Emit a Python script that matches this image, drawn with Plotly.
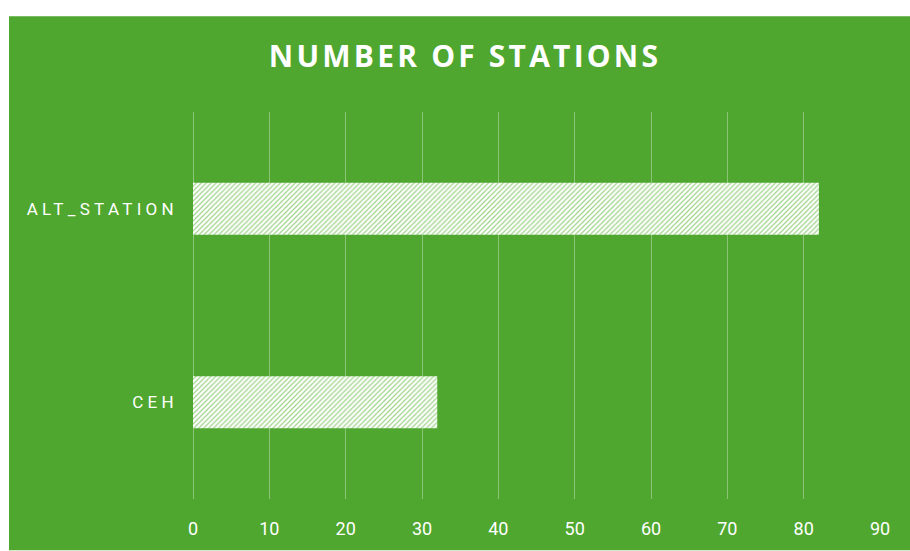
import plotly.graph_objects as go

categories = ["ALT_STATION", "CEH"]
values = [82, 32]
x_ticks = [0, 10, 20, 30, 40, 50, 60, 70, 80, 90]
title_text = "NUMBER OF STATIONS"

GREEN = "#4FA72F"
W, H = 910, 551
L, R, T, B = 193, 30, 112, 47
pw = W - L - R
ph = H - T - B

fig = go.Figure()
fig.add_trace(go.Bar(
    y=categories,
    x=values,
    orientation="h",
    width=0.27,
    marker=dict(
        color="white",
        line=dict(width=0),
        pattern=dict(shape="/", fgcolor="#9dd388", bgcolor="white", size=3.5, solidity=0.35, fillmode="replace"),
    ),
    hoverinfo="skip",
))

fig.update_layout(
    width=W, height=H,
    margin=dict(l=L, r=R, t=T, b=B, pad=0),
    paper_bgcolor="white",
    plot_bgcolor="rgba(0,0,0,0)",
    showlegend=False,
    title=dict(text=title_text, x=465 / W, xanchor="center", y=1 - 56 / H, yanchor="middle",
               font=dict(family="Open Sans", size=30, color="white", weight="bold")),
    shapes=[dict(type="rect", xref="paper", yref="paper", layer="below",
                 x0=(9 - L) / pw, x1=(W + 5 - L) / pw,
                 y0=-(H + 5 - T - ph) / ph, y1=(T + ph - 15) / ph,
                 fillcolor=GREEN, line=dict(width=0))],
)
fig.update_xaxes(
    range=[0, 90], tickvals=x_ticks, showgrid=True, gridcolor="rgba(255,255,255,0.35)", gridwidth=1,
    zeroline=True, zerolinecolor="rgba(255,255,255,0.35)", zerolinewidth=1, showline=False,
    ticks="", tickfont=dict(family="Roboto", size=18, color="white"), ticklabelstandoff=17,
    fixedrange=True,
)
fig.update_yaxes(
    categoryorder="array", categoryarray=categories[::-1], showgrid=False, zeroline=False, showline=False,
    ticks="", tickfont=dict(family="Roboto", size=17, color="white"), ticklabelstandoff=14,
    fixedrange=True,
)

post = ("var s=document.createElement('style');"
        "s.innerHTML='.ytick text{letter-spacing:4.3px}.gtitle{letter-spacing:3.2px}';"
        "document.head.appendChild(s);")
fig.write_html("out.html", post_script=post, config={"displayModeBar": False})
